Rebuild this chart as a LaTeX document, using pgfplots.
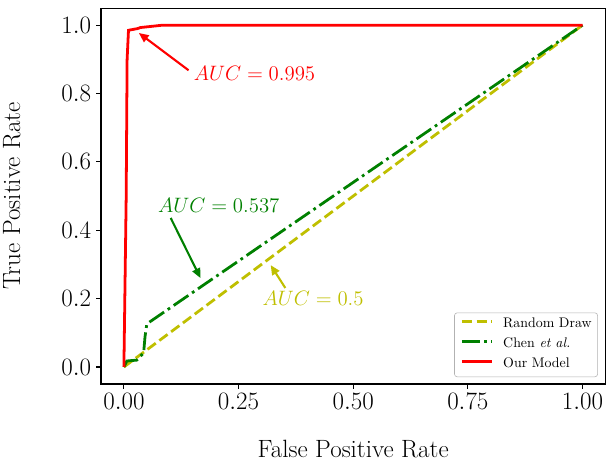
\RequirePackage{fix-cm}
\documentclass[border=0pt]{standalone}
\usepackage{pgfplots}
\pgfplotsset{compat=1.18}
\usetikzlibrary{arrows.meta}

\definecolor{mplyellow}{rgb}{0.75,0.75,0}
\definecolor{mplgreen}{rgb}{0,0.5,0}
\definecolor{mplred}{rgb}{1,0,0}

\begin{document}
\begin{tikzpicture}
\begin{axis}[
  scale only axis,
  width=363.2pt, height=270.7pt,
  at={(0,0)}, anchor=south west,
  xmin=-0.05, xmax=1.05,
  ymin=-0.05, ymax=1.05,
  axis line style={line width=0.8pt},
  tick align=outside,
  tick style={line width=0.8pt, black},
  major tick length=3.5pt,
  xtick={0,0.25,0.5,0.75,1},
  ytick={0,0.2,0.4,0.6,0.8,1},
  xtick pos=bottom, ytick pos=left,
  xticklabel style={/pgf/number format/.cd, fixed, fixed zerofill, precision=2},
  yticklabel style={/pgf/number format/.cd, fixed, fixed zerofill, precision=1},
  tick label style={font=\fontsize{18}{21.6}\selectfont},
  xlabel={False Positive Rate},
  ylabel={True Positive Rate},
  label style={font=\fontsize{18}{21.6}\selectfont},
  xlabel style={at={(axis description cs:0.5,-0.173)}, anchor=center},
  ylabel style={at={(axis description cs:-0.177,0.5)}, anchor=center},
  legend cell align=left,
  legend style={
    font=\fontsize{10}{12}\selectfont,
    at={(axis description cs:0.985,0.0185)}, anchor=south east,
    draw=black!30, rounded corners=2pt, fill=white, fill opacity=0.8,
    text opacity=1, inner xsep=4.3pt, inner ysep=3.9pt,
    nodes={inner sep=0pt, text height=7pt, text depth=2.5pt},
    row sep=4.9pt, column sep=7.2pt,
  },
  legend image code/.code={\draw[#1, rounded corners=0pt] (0pt,2.5pt) -- (21.6pt,2.5pt);},
]
\addplot[mplyellow, line width=2pt, dash pattern=on 7.4pt off 3.2pt]
coordinates {(0,0) (1,1)};
\addlegendentry{Random Draw}
\addplot[mplgreen, line width=2pt, dash pattern=on 12.8pt off 3.2pt on 2pt off 3.2pt]
coordinates {(0,0) (0.0065,0.0175) (0.028,0.02) (0.043,0.041) (0.046,0.088) (0.05,0.126) (1,1)};
\addlegendentry{Chen \textit{et al.}}
\addplot[mplred, line width=2pt]
coordinates {(0,0) (0.005,0.5) (0.007,0.9) (0.01,0.985) (0.03,0.99) (0.036,0.993) (0.085,1) (1,1)};
\addlegendentry{Our Model}

\node[mplred, anchor=west, inner sep=0pt, font=\fontsize{15}{18}\selectfont]
  at (axis cs:0.152,0.860) {$AUC=0.995$};
\draw[mplred, line width=1.5pt, -{Triangle[length=7pt,width=6pt]}]
  (axis cs:0.141,0.868) -- (axis cs:0.0326,0.977);
\node[mplgreen, anchor=west, inner sep=0pt, font=\fontsize{15}{18}\selectfont]
  at (axis cs:0.074,0.474) {$AUC=0.537$};
\draw[mplgreen, line width=1.5pt, -{Triangle[length=7pt,width=6pt]}]
  (axis cs:0.102,0.436) -- (axis cs:0.167,0.260);
\node[mplyellow, anchor=west, inner sep=0pt, font=\fontsize{15}{18}\selectfont]
  at (axis cs:0.302,0.202) {$AUC=0.5$};
\draw[mplyellow, line width=1.5pt, -{Triangle[length=7pt,width=6pt]}]
  (axis cs:0.352,0.231) -- (axis cs:0.320,0.298);
\end{axis}
\pgfresetboundingbox
\useasboundingbox (-72.7pt,-59pt) rectangle (363.6pt,276.5pt);
\end{tikzpicture}
\end{document}
